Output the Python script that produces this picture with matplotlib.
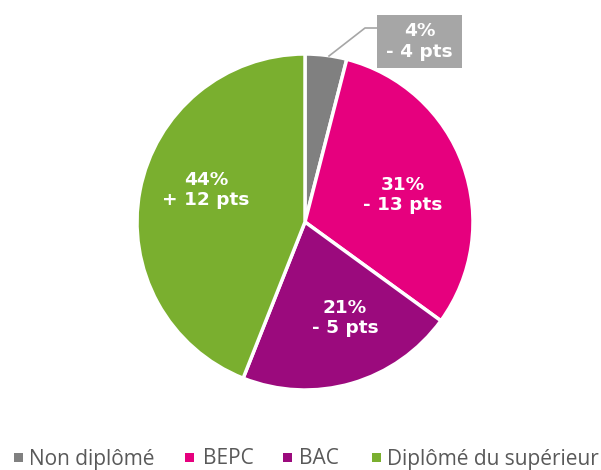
import matplotlib.pyplot as plt
from matplotlib.patches import Rectangle

categories = ['Non diplômé', 'BEPC', 'BAC', 'Diplômé du supérieur']
shares = [4, 31, 21, 44]
changes = ['- 4 pts', '- 13 pts', '- 5 pts', '+ 12 pts']
colors = ['#808080', '#E6007E', '#9B0A7D', '#7AAF2F']

W, H = 601, 470
fig = plt.figure(figsize=(W / 100, H / 100), dpi=100)
ax = fig.add_axes([0, 0, 1, 1])

cx, cy, r = 305, H - 222, 168
ax.pie(shares, colors=colors, startangle=90, counterclock=False,
       center=(cx, cy), radius=r,
       wedgeprops=dict(edgecolor='white', linewidth=2.5))
ax.set_xlim(0, W)
ax.set_ylim(0, H)
ax.set_aspect('equal')
ax.axis('off')

label_font = dict(color='white', fontsize=13.3, fontweight='bold',
                  ha='center', va='center', family='DejaVu Sans',
                  linespacing=1.2)

# labels inside the slices
inside = {1: (403, 195), 2: (345, 318), 3: (206, 190)}
for i, (px, py) in inside.items():
    ax.text(px, H - py, '{}%\n{}'.format(shares[i], changes[i]), **label_font)

# small slice gets a boxed label with a leader line
ax.plot([329, 365, 377], [H - 56, H - 28, H - 28], color='#A6A6A6', lw=1.2)
ax.add_patch(Rectangle((377, H - 68), 85, 53, fc='#A6A6A6', ec='none'))
ax.text(419.5, H - 41.5, '{}%\n{}'.format(shares[0], changes[0]), **label_font)

# legend along the bottom edge
square_x = [18.5, 189, 287, 376]
text_x = [29, 203, 299, 387]
for name, c, sx, tx in zip(categories, colors, square_x, text_x):
    ax.add_patch(Rectangle((sx - 4.5, H - 462), 9, 9, fc=c, ec='none'))
    ax.text(tx, H - 464.5, name, fontsize=15, color='#595959',
            family='Open Sans', ha='left', va='baseline')

fig.savefig('out.png', dpi=100)
